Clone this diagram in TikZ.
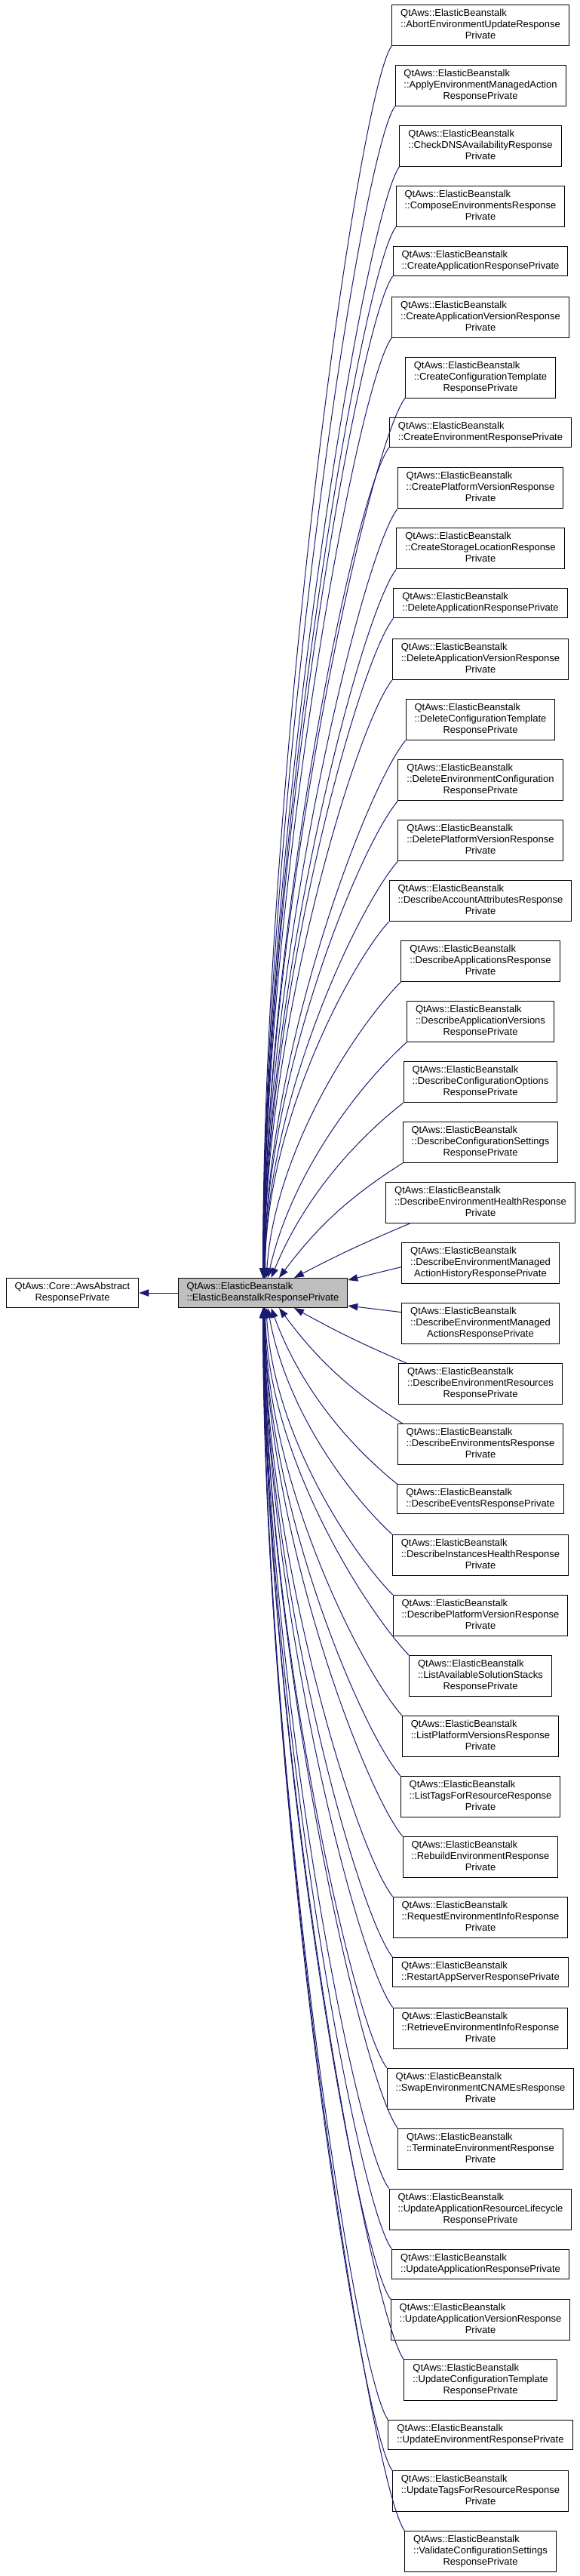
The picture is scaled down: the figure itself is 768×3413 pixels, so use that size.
\documentclass[tikz,border=0pt]{standalone}
\usepackage{fontspec}
\setmainfont{Liberation Sans}
\usetikzlibrary{arrows.meta,calc}
\definecolor{linkc}{HTML}{191970}
\definecolor{focusc}{HTML}{BFBFBF}
\tikzset{
  resp/.style={draw=black, line width=0.75pt, fill=white, anchor=north,
               inner xsep=8.6pt, inner ysep=3.375pt, font=\fontsize{9.75}{11.25}\selectfont},
  focusbox/.style={resp, fill=focusc},
  inh/.style={-{Triangle[length=9.75pt, width=7pt]}, line width=0.75pt, draw=linkc},
}

\begin{document}
\begin{tikzpicture}[x=0.75pt, y=0.75pt]
  % 1 unit = 1 px of the 768 x 3413 diagram, y runs down as negative
  \useasboundingbox (0,0) rectangle (768,-3413);
  \newcommand{\lastrow}[1]{\multicolumn{1}{@{}c@{}}{#1}}
  \newcommand{\respbox}[3]{% name, top edge, rows after the namespace
    \node[resp] (#1) at (637,-#2) {\begin{tabular}{@{}l@{}}QtAws::ElasticBeanstalk\\#3\end{tabular}};}
  \node[resp] (abstract) at (96,-1693) {\begin{tabular}{@{}l@{}}QtAws::Core::AwsAbstract\\\lastrow{ResponsePrivate}\end{tabular}};
  \node[focusbox] (elastic) at (348.5,-1693) {\begin{tabular}{@{}l@{}}QtAws::ElasticBeanstalk\\::ElasticBeanstalkResponsePrivate\end{tabular}};
  \respbox{abortupd}{6}{::AbortEnvironmentUpdateResponse\\\lastrow{Private}}
  \respbox{applyact}{86}{::ApplyEnvironmentManagedAction\\\lastrow{ResponsePrivate}}
  \respbox{checkdns}{166}{::CheckDNSAvailabilityResponse\\\lastrow{Private}}
  \respbox{composeenv}{246}{::ComposeEnvironmentsResponse\\\lastrow{Private}}
  \respbox{createapp}{326}{::CreateApplicationResponsePrivate}
  \respbox{createappver}{392.7}{::CreateApplicationVersionResponse\\\lastrow{Private}}
  \respbox{createcfg}{472.7}{::CreateConfigurationTemplate\\\lastrow{ResponsePrivate}}
  \respbox{createenv}{552.7}{::CreateEnvironmentResponsePrivate}
  \respbox{createplat}{619.4}{::CreatePlatformVersionResponse\\\lastrow{Private}}
  \respbox{createstor}{699.4}{::CreateStorageLocationResponse\\\lastrow{Private}}
  \respbox{deleteapp}{779.4}{::DeleteApplicationResponsePrivate}
  \respbox{deleteappver}{846.1}{::DeleteApplicationVersionResponse\\\lastrow{Private}}
  \respbox{deletecfg}{926.1}{::DeleteConfigurationTemplate\\\lastrow{ResponsePrivate}}
  \respbox{deleteenvcfg}{1006.1}{::DeleteEnvironmentConfiguration\\\lastrow{ResponsePrivate}}
  \respbox{deleteplat}{1086.1}{::DeletePlatformVersionResponse\\\lastrow{Private}}
  \respbox{descacct}{1166.1}{::DescribeAccountAttributesResponse\\\lastrow{Private}}
  \respbox{descapps}{1246.1}{::DescribeApplicationsResponse\\\lastrow{Private}}
  \respbox{descappver}{1326.1}{::DescribeApplicationVersions\\\lastrow{ResponsePrivate}}
  \respbox{desccfgopt}{1406.1}{::DescribeConfigurationOptions\\\lastrow{ResponsePrivate}}
  \respbox{desccfgset}{1486.1}{::DescribeConfigurationSettings\\\lastrow{ResponsePrivate}}
  \respbox{descenvhealth}{1566.1}{::DescribeEnvironmentHealthResponse\\\lastrow{Private}}
  \respbox{descmahist}{1646.1}{::DescribeEnvironmentManaged\\\lastrow{ActionHistoryResponsePrivate}}
  \respbox{descmact}{1726.1}{::DescribeEnvironmentManaged\\\lastrow{ActionsResponsePrivate}}
  \respbox{descenvres}{1806.1}{::DescribeEnvironmentResources\\\lastrow{ResponsePrivate}}
  \respbox{descenvs}{1886.1}{::DescribeEnvironmentsResponse\\\lastrow{Private}}
  \respbox{descevents}{1966.1}{::DescribeEventsResponsePrivate}
  \respbox{descinst}{2032.8}{::DescribeInstancesHealthResponse\\\lastrow{Private}}
  \respbox{descplat}{2112.8}{::DescribePlatformVersionResponse\\\lastrow{Private}}
  \respbox{listsolstk}{2192.8}{::ListAvailableSolutionStacks\\\lastrow{ResponsePrivate}}
  \respbox{listplat}{2272.8}{::ListPlatformVersionsResponse\\\lastrow{Private}}
  \respbox{listtags}{2352.8}{::ListTagsForResourceResponse\\\lastrow{Private}}
  \respbox{rebuildenv}{2432.8}{::RebuildEnvironmentResponse\\\lastrow{Private}}
  \respbox{requestinfo}{2512.8}{::RequestEnvironmentInfoResponse\\\lastrow{Private}}
  \respbox{restartapp}{2592.8}{::RestartAppServerResponsePrivate}
  \respbox{retrieveinfo}{2659.5}{::RetrieveEnvironmentInfoResponse\\\lastrow{Private}}
  \respbox{swapcname}{2739.5}{::SwapEnvironmentCNAMEsResponse\\\lastrow{Private}}
  \respbox{terminateenv}{2819.5}{::TerminateEnvironmentResponse\\\lastrow{Private}}
  \respbox{updateappres}{2899.5}{::UpdateApplicationResourceLifecycle\\\lastrow{ResponsePrivate}}
  \respbox{updateapp}{2979.5}{::UpdateApplicationResponsePrivate}
  \respbox{updateappver}{3046.2}{::UpdateApplicationVersionResponse\\\lastrow{Private}}
  \respbox{updatecfg}{3126.2}{::UpdateConfigurationTemplate\\\lastrow{ResponsePrivate}}
  \respbox{updateenv}{3206.2}{::UpdateEnvironmentResponsePrivate}
  \respbox{updatetags}{3272.9}{::UpdateTagsForResourceResponse\\\lastrow{Private}}
  \respbox{validatecfg}{3352.9}{::ValidateConfigurationSettings\\\lastrow{ResponsePrivate}}
  \draw[inh] (elastic) -- (abstract);
  % boxes above: box / shift at the focus box / shift at the box corner
  \foreach \bx/\ex/\sx in {abortupd/0/0, applyact/0.5/0, checkdns/0.5/0, composeenv/1/0,
      createapp/1/0, createappver/1/0, createcfg/1.5/0, createenv/1.5/0, createplat/1.5/0,
      createstor/2/0, deleteapp/2/0, deleteappver/2/0, deletecfg/2.5/0, deleteenvcfg/2.5/0,
      deleteplat/3/0, descacct/3/0, descapps/4.5/0, descappver/6.5/0, desccfgopt/11/0,
      desccfgset/21.5/0, descenvhealth/41.5/32} {
    \draw[inh] let \p1=($(\bx.south west)+(\sx,0)-(elastic.north)-(\ex,0)$),
      \n1={atan2(\y1,\x1)}, \n2={veclen(\x1,\y1)/0.75}, \n3={0.45*max(\n1-20,0)} in
      ($(\bx.south west)+(\sx,0)$) .. controls +({180+\n1-\n3}:{min(0.3*\n2,60)})
      and +({min(\n1+\n3,90)}:{0.3*\n2}) .. ($(elastic.north)+(\ex,0)$);
  }
  \draw[inh] ($(descmahist.west)+(0,-5)$) -- ($(elastic.north east)+(0,-3)$);
  \draw[inh] ($(descmact.west)+(0,15)$) -- ($(elastic.south east)+(0,3)$);
  % boxes below
  \foreach \bx/\ex/\sx in {descenvres/41.5/11, descenvs/21.5/7, descevents/11/0,
      descinst/6.5/0, descplat/4.5/0, listsolstk/3/0, listplat/3/0, listtags/2.5/0,
      rebuildenv/2.5/0, requestinfo/2/0, restartapp/2/0, retrieveinfo/2/0, swapcname/1.5/0,
      terminateenv/1.5/0, updateappres/1.5/0, updateapp/1/0, updateappver/1/0,
      updatecfg/1/0, updateenv/0.5/0, updatetags/0.5/0, validatecfg/0/0} {
    \draw[inh] let \p1=($(\bx.north west)+(\sx,0)-(elastic.south)-(\ex,0)$),
      \n1={atan2(\y1,\x1)}, \n2={veclen(\x1,\y1)/0.75}, \n3={0.45*max(-\n1-20,0)} in
      ($(\bx.north west)+(\sx,0)$) .. controls +({180+\n1+\n3}:{min(0.3*\n2,60)})
      and +({max(\n1-\n3,-90)}:{0.3*\n2}) .. ($(elastic.south)+(\ex,0)$);
  }
\end{tikzpicture}
\end{document}
